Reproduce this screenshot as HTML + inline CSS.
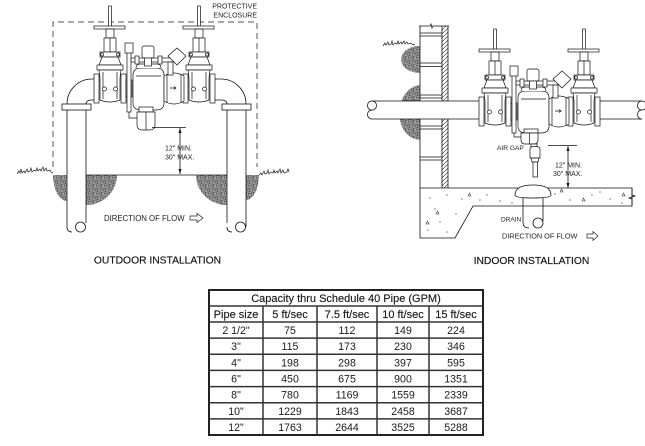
<!DOCTYPE html>
<html><head><meta charset="utf-8">
<style>
html,body{margin:0;padding:0;background:#fff;}
svg{display:block;font-family:"Liberation Sans",Arial,sans-serif;}
</style></head><body>
<svg width="645" height="446" viewBox="0 0 645 446" xmlns="http://www.w3.org/2000/svg">
<defs>
<pattern id="gr" width="8" height="8" patternUnits="userSpaceOnUse">
<rect width="8" height="8" fill="#4c4c4c"/>
<path d="M0.3,0.8h3.4M0.3,2.2h3.4M0.3,3.6h3.4M4.3,4.8h3.4M4.3,6.2h3.4M4.3,7.6h3.4M4.8,0.3v3.4M6.2,0.3v3.4M7.6,0.3v3.4M0.8,4.3v3.4M2.2,4.3v3.4M3.6,4.3v3.4" stroke="#e4e4e4" stroke-width="0.55" fill="none"/>
</pattern>
<pattern id="hs" width="4" height="4" patternUnits="userSpaceOnUse">
<path d="M-1,5 L5,-1" stroke="#222" stroke-width="0.6"/>
</pattern>
</defs>

<!-- ================= OUTDOOR ================= -->
<path d="M53,167 V22 H257 V167" fill="none" stroke="#555" stroke-width="1" stroke-dasharray="6,4"/>
<text x="257" y="8.5" font-size="7" text-anchor="end" fill="#222">PROTECTIVE</text>
<text x="257" y="17.5" font-size="7" text-anchor="end" fill="#222">ENCLOSURE</text>

<path d="M53,175 H67 V201 A14,26 0 0 1 53,175 Z" fill="url(#gr)"/>
<path d="M86,175 H117 A31,30 0 0 1 86,205 Z" fill="url(#gr)"/>
<path d="M227,175 H196 A31,30 0 0 0 227,205 Z" fill="url(#gr)"/>
<path d="M246,175 H259 A13,25 0 0 1 246,200 Z" fill="url(#gr)"/>
<path d="M17,174 l2,-3 l1,2 l1,-4 l1,4 l2,-2 l1,2 l2,-4 l1,3 l2,-1 l1,-3 l1,4 l2,-2 l2,1 l1,-3 l1,3 l2,-2 l1,2 l2,-4 l1,4 l2,-3 l1,3 l3,-1 l1,2 l2,1" fill="none" stroke="#222" stroke-width="0.7"/>
<path d="M259,175 l2,-2 l1,2 l2,-4 l1,3 l2,-1 l1,-3 l1,4 l2,-2 l2,1 l1,-3 l1,3 l2,-2 l1,2 l2,-4 l1,4 l2,-3 l1,3 l3,-1 l1,-3 l1,3" fill="none" stroke="#222" stroke-width="0.7"/>

<g fill="none" stroke="#111" stroke-width="0.8">
<path d="M67,227 V104 A25,25 0 0 1 92,79 H94 M94,100 H92 Q86,100 86,104 V223"/>
<path d="M67,227 Q67,232 72,232"/>
<circle cx="80.5" cy="227" r="5"/>
<path d="M246,227 V104 A25,25 0 0 0 221,79 H215 M215,100 H221 Q227,100 227,104 V223"/>
<path d="M227,227 Q227,232 232,232"/>
<circle cx="240.5" cy="227" r="5"/>
<line x1="86" y1="175" x2="227" y2="175"/>
</g>
<rect x="62" y="104" width="29" height="6" fill="#fff" stroke="#111" stroke-width="0.8"/>
<rect x="222" y="104" width="29" height="6" fill="#fff" stroke="#111" stroke-width="0.8"/>

<g fill="#fff" stroke="#111" stroke-width="0.7">
 <g>
  <rect x="108.6" y="6" width="2.8" height="33"/>
  <rect x="94" y="26" width="31" height="3"/>
  <rect x="106" y="29" width="8" height="9" rx="1"/>
  <rect x="104" y="38" width="12" height="14"/>
  <line x1="110" y1="38" x2="110" y2="52"/>
  <rect x="100" y="52" width="20" height="5"/>
  <circle cx="102" cy="54.5" r="1.5"/><circle cx="118" cy="54.5" r="1.5"/>
  <path d="M102,57 H118 L121,65 H99 Z"/>
  <rect x="97" y="65" width="26" height="5"/>
  <path d="M99,70 H121 L120,78 V100 Q110,104 100,100 V78 Z"/>
  <line x1="103" y1="72" x2="103" y2="99"/><line x1="117" y1="72" x2="117" y2="99"/>
  <circle cx="104.5" cy="89" r="2"/><circle cx="115.5" cy="89" r="2"/>
  <rect x="94" y="74" width="5" height="29"/>
  <rect x="121" y="74" width="5" height="29"/>
 </g>
 <g transform="translate(89,0)">
  <rect x="108.6" y="6" width="2.8" height="33"/>
  <rect x="94" y="26" width="31" height="3"/>
  <rect x="106" y="29" width="8" height="9" rx="1"/>
  <rect x="104" y="38" width="12" height="14"/>
  <line x1="110" y1="38" x2="110" y2="52"/>
  <rect x="100" y="52" width="20" height="5"/>
  <circle cx="102" cy="54.5" r="1.5"/><circle cx="118" cy="54.5" r="1.5"/>
  <path d="M102,57 H118 L121,65 H99 Z"/>
  <rect x="97" y="65" width="26" height="5"/>
  <path d="M99,70 H121 L120,78 V100 Q110,104 100,100 V78 Z"/>
  <line x1="103" y1="72" x2="103" y2="99"/><line x1="117" y1="72" x2="117" y2="99"/>
  <circle cx="104.5" cy="89" r="2"/><circle cx="115.5" cy="89" r="2"/>
  <rect x="94" y="74" width="5" height="29"/>
  <rect x="121" y="74" width="5" height="29"/>
 </g>
 <rect x="126" y="80" width="6" height="17"/>
 <rect x="127" y="46" width="4" height="66"/>
 <rect x="125" y="43" width="8" height="10"/>
 <path d="M133,75 Q133,68 141,68 H156 Q164,68 164,75 V103 Q164,110 156,110 H141 Q133,110 133,103 Z"/>
 <path d="M136,68 Q136,64 140,64 H157 Q161,64 161,68"/>
 <line x1="136" y1="76" x2="161" y2="76"/>
 <path d="M164,76 Q174,70 184,76 V101 Q174,107 164,101 Z"/>
 <line x1="167" y1="74" x2="167" y2="103"/><line x1="181" y1="74" x2="181" y2="103"/>
 <path d="M170,88 h6 M174,86.5 l2,1.5 l-2,1.5" fill="none"/>
 <rect x="131" y="58" width="42" height="4"/>
 <rect x="135" y="56" width="4" height="8"/>
 <rect x="158" y="56" width="4" height="8"/>
 <rect x="142" y="46" width="12" height="12" rx="2"/>
 <rect x="144.5" y="58" width="7" height="8"/>
 <path d="M168,56 L177,48 L186,56 L177,65 Z"/>
 <rect x="168" y="62" width="5" height="13"/>
 <path d="M129,112 V118 H137" fill="none"/>
 <rect x="139" y="107" width="14" height="5"/>
 <path d="M137,112 H155 V125 Q155,130 149,130 H143 Q137,130 137,125 Z"/>
 <line x1="146" y1="112" x2="146" y2="130"/>
</g>

<g stroke="#111" stroke-width="0.8" fill="#111">
<line x1="152" y1="127.5" x2="186" y2="127.5"/>
<line x1="180" y1="128" x2="180" y2="174"/>
<path d="M180,128 L178.5,133 L181.5,133 Z" stroke="none"/>
<path d="M180,174 L178.5,169 L181.5,169 Z" stroke="none"/>
</g>
<text x="165" y="150.5" font-size="7" fill="#222">12" MIN.</text>
<text x="165" y="159.5" font-size="7" fill="#222">30" MAX.</text>
<text x="104" y="221" font-size="7.8" fill="#222">DIRECTION OF FLOW</text>
<polygon points="190,216 197,216 197,213.5 203,218 197,222.5 197,220 190,220" fill="#fff" stroke="#222" stroke-width="0.7"/>
<text x="157.5" y="263.5" font-size="10.3" text-anchor="middle" fill="#111" stroke="#111" stroke-width="0.15">OUTDOOR INSTALLATION</text>

<!-- ================= INDOOR ================= -->
<path d="M420,46 C396,46 394,72 420,73 Z" fill="url(#gr)"/>
<path d="M420,85 C393,88 392,138 420,140 Z" fill="url(#gr)"/>
<path d="M383,46 l2,-3 l1,2 l2,-3 l1,3 l2,-1 l1,-3 l1,4 l2,-2 l2,1 l1,-3 l1,3 l2,-2 l1,2 l2,-3 l1,3 l2,-2 l1,2 l3,-1 l2,2 l2,-1" fill="none" stroke="#222" stroke-width="0.7"/>

<rect x="442" y="26" width="6" height="162" fill="url(#hs)"/>
<g fill="none" stroke="#111" stroke-width="0.8">
<path d="M420,26 V188 M442,26 V188 M448,26 V188"/>
<path d="M419,26 H430 l1,-2 l1,4 l1,-2 H449"/>
<path d="M420,33 H442 M420,36 H442 M420,63 H442 M420,66.5 H442 M420,95 H442 M420,98 H442 M420,126 H442 M420,129 H442 M420,157 H442 M420,160 H442"/>
</g>

<path d="M420,188 H632 V206 H473 L455,238 H420 Z" fill="#fff" stroke="#111" stroke-width="0.8"/>
<path d="M632,188 V195 l3,1 l-6,2 l3,1 V206" fill="none" stroke="#111" stroke-width="0.8"/>
<g fill="#333">
<circle cx="430" cy="198" r="0.6"/><circle cx="447" cy="195" r="0.6"/><circle cx="462" cy="199" r="0.6"/>
<circle cx="487" cy="195" r="0.6"/><circle cx="500" cy="201" r="0.6"/><circle cx="456" cy="214" r="0.6"/>
<circle cx="440" cy="222" r="0.6"/><circle cx="428" cy="230" r="0.6"/><circle cx="447" cy="232" r="0.6"/>
<circle cx="570" cy="200" r="0.6"/><circle cx="592" cy="195" r="0.6"/><circle cx="610" cy="199" r="0.6"/>
<circle cx="622" cy="203" r="0.6"/><circle cx="480" cy="200" r="0.6"/><circle cx="600" cy="192" r="0.6"/>
<circle cx="555" cy="194" r="0.6"/><circle cx="512" cy="203" r="0.6"/><circle cx="435" cy="209" r="0.6"/>
</g>
<g fill="none" stroke="#333" stroke-width="0.6">
<path d="M436,214 l1.5,-3 l1.5,3 z"/><path d="M468,196 l1.5,-3 l1.5,3 z"/><path d="M582,201 l1.5,-3 l1.5,3 z"/>
<path d="M622,196 l1.5,-3 l1.5,3 z"/><path d="M426,224 l1.5,-3 l1.5,3 z"/><path d="M560,192 l1.5,-3 l1.5,3 z"/>
</g>

<g fill="#fff" stroke="#111" stroke-width="0.8">
<path d="M523,198 V222 Q523,228 529,228 M543,198 V221" fill="none"/>
<circle cx="538" cy="223" r="5"/>
<path d="M515,195 Q515,185 533,185 Q551,185 551,195 Q551,198 533,198 Q515,198 515,195 Z"/>
</g>

<rect x="372" y="101" width="108" height="18" fill="#fff"/>
<rect x="599" y="101" width="43" height="18" fill="#fff"/>
<g fill="none" stroke="#111" stroke-width="0.8">
<path d="M372,101 H480 M372,119 H480 M599,101 H642 M599,119 H642"/>
<path d="M372,101 C366,101 366,110 372,110 C378,110 378,101 372,101 M372,110 C366,110 366,119 372,119"/>
<path d="M642,101 C636,101 636,110 642,110 C648,110 648,101 642,101 M642,110 C636,110 636,119 642,119"/>
</g>

<g fill="#fff" stroke="#111" stroke-width="0.7" transform="translate(385,23)">
 <g>
  <rect x="108.6" y="6" width="2.8" height="33"/>
  <rect x="94" y="26" width="31" height="3"/>
  <rect x="106" y="29" width="8" height="9" rx="1"/>
  <rect x="104" y="38" width="12" height="14"/>
  <line x1="110" y1="38" x2="110" y2="52"/>
  <rect x="100" y="52" width="20" height="5"/>
  <circle cx="102" cy="54.5" r="1.5"/><circle cx="118" cy="54.5" r="1.5"/>
  <path d="M102,57 H118 L121,65 H99 Z"/>
  <rect x="97" y="65" width="26" height="5"/>
  <path d="M99,70 H121 L120,78 V100 Q110,104 100,100 V78 Z"/>
  <line x1="103" y1="72" x2="103" y2="99"/><line x1="117" y1="72" x2="117" y2="99"/>
  <circle cx="104.5" cy="89" r="2"/><circle cx="115.5" cy="89" r="2"/>
  <rect x="94" y="74" width="5" height="29"/>
  <rect x="121" y="74" width="5" height="29"/>
 </g>
 <g transform="translate(89,0)">
  <rect x="108.6" y="6" width="2.8" height="33"/>
  <rect x="94" y="26" width="31" height="3"/>
  <rect x="106" y="29" width="8" height="9" rx="1"/>
  <rect x="104" y="38" width="12" height="14"/>
  <line x1="110" y1="38" x2="110" y2="52"/>
  <rect x="100" y="52" width="20" height="5"/>
  <circle cx="102" cy="54.5" r="1.5"/><circle cx="118" cy="54.5" r="1.5"/>
  <path d="M102,57 H118 L121,65 H99 Z"/>
  <rect x="97" y="65" width="26" height="5"/>
  <path d="M99,70 H121 L120,78 V100 Q110,104 100,100 V78 Z"/>
  <line x1="103" y1="72" x2="103" y2="99"/><line x1="117" y1="72" x2="117" y2="99"/>
  <circle cx="104.5" cy="89" r="2"/><circle cx="115.5" cy="89" r="2"/>
  <rect x="94" y="74" width="5" height="29"/>
  <rect x="121" y="74" width="5" height="29"/>
 </g>
 <rect x="126" y="80" width="6" height="17"/>
 <rect x="127" y="46" width="4" height="64"/>
 <rect x="125" y="43" width="8" height="10"/>
 <path d="M133,75 Q133,68 141,68 H156 Q164,68 164,75 V103 Q164,110 156,110 H141 Q133,110 133,103 Z"/>
 <path d="M136,68 Q136,64 140,64 H157 Q161,64 161,68"/>
 <line x1="136" y1="76" x2="161" y2="76"/>
 <path d="M164,76 Q174,70 184,76 V101 Q174,107 164,101 Z"/>
 <line x1="167" y1="74" x2="167" y2="103"/><line x1="181" y1="74" x2="181" y2="103"/>
 <path d="M170,88 h6 M174,86.5 l2,1.5 l-2,1.5" fill="none"/>
 <rect x="131" y="58" width="42" height="4"/>
 <rect x="135" y="56" width="4" height="8"/>
 <rect x="158" y="56" width="4" height="8"/>
 <rect x="142" y="46" width="12" height="12" rx="2"/>
 <rect x="144.5" y="58" width="7" height="8"/>
 <path d="M168,56 L177,48 L186,56 L177,65 Z"/>
 <rect x="168" y="62" width="5" height="13"/>
 <path d="M129,110 V114 H136" fill="none"/>
 <rect x="139" y="106" width="14" height="4"/>
 <path d="M136,110 H153 V117 Q153,121 149,121 H140 Q136,121 136,117 Z"/>
 <line x1="144.5" y1="110" x2="144.5" y2="121"/>
 <rect x="146" y="121" width="6" height="3"/>
</g>
<g fill="#fff" stroke="#111" stroke-width="0.7">
<path d="M530,149 Q530,146.5 535,146.5 Q540,146.5 540,149 V158 H530 Z"/>
<path d="M531,158 L539,158 L538,162 L532,162 Z"/>
<rect x="533" y="162" width="4.5" height="15"/>
</g>

<g stroke="#111" stroke-width="0.8" fill="#111">
<line x1="548" y1="145.5" x2="577" y2="145.5"/>
<line x1="568" y1="146" x2="568" y2="188"/>
<path d="M568,146 L566.5,151 L569.5,151 Z" stroke="none"/>
<path d="M568,188 L566.5,183 L569.5,183 Z" stroke="none"/>
</g>
<text x="555" y="167.5" font-size="7" fill="#222">12" MIN.</text>
<text x="553" y="176" font-size="7" fill="#222">30" MAX.</text>
<text x="497" y="150" font-size="6.6" fill="#222">AIR GAP</text>
<text x="501" y="221.5" font-size="6.5" fill="#222">DRAIN</text>
<text x="502" y="238.5" font-size="7.3" fill="#222">DIRECTION OF FLOW</text>
<polygon points="587,234 593,234 593,231.5 598,236 593,240.5 593,238 587,238" fill="#fff" stroke="#222" stroke-width="0.7"/>
<text x="531.5" y="264" font-size="10.3" text-anchor="middle" fill="#111" stroke="#111" stroke-width="0.15">INDOOR INSTALLATION</text>

<!-- ================= TABLE ================= -->
<rect x="209" y="290" width="274" height="145" fill="#fff" stroke="#222" stroke-width="2"/>
<g stroke="#333" stroke-width="1.5">
<line x1="209" y1="306" x2="483" y2="306"/>
<line x1="209" y1="322" x2="483" y2="322"/>
<line x1="209" y1="338.1" x2="483" y2="338.1"/>
<line x1="209" y1="354.3" x2="483" y2="354.3"/>
<line x1="209" y1="370.4" x2="483" y2="370.4"/>
<line x1="209" y1="386.6" x2="483" y2="386.6"/>
<line x1="209" y1="402.7" x2="483" y2="402.7"/>
<line x1="209" y1="418.9" x2="483" y2="418.9"/>
<line x1="263" y1="306" x2="263" y2="435"/>
<line x1="317" y1="306" x2="317" y2="435"/>
<line x1="377" y1="306" x2="377" y2="435"/>
<line x1="429" y1="306" x2="429" y2="435"/>
</g>
<g font-size="11" fill="#1a1a1a" stroke="#1a1a1a" stroke-width="0.15" text-anchor="middle">
<text x="346" y="302">Capacity thru Schedule 40 Pipe (GPM)</text>
<text x="236" y="318">Pipe size</text><text x="290" y="318">5 ft/sec</text><text x="347" y="318">7.5 ft/sec</text><text x="403" y="318">10 ft/sec</text><text x="456" y="318">15 ft/sec</text>
</g>
<g font-size="10.6" fill="#1a1a1a" text-anchor="middle">
<text x="236" y="334">2 1/2"</text><text x="290" y="334">75</text><text x="347" y="334">112</text><text x="403" y="334">149</text><text x="456" y="334">224</text>
<text x="236" y="350.2">3"</text><text x="290" y="350.2">115</text><text x="347" y="350.2">173</text><text x="403" y="350.2">230</text><text x="456" y="350.2">346</text>
<text x="236" y="366.3">4"</text><text x="290" y="366.3">198</text><text x="347" y="366.3">298</text><text x="403" y="366.3">397</text><text x="456" y="366.3">595</text>
<text x="236" y="382.5">6"</text><text x="290" y="382.5">450</text><text x="347" y="382.5">675</text><text x="403" y="382.5">900</text><text x="456" y="382.5">1351</text>
<text x="236" y="398.6">8"</text><text x="290" y="398.6">780</text><text x="347" y="398.6">1169</text><text x="403" y="398.6">1559</text><text x="456" y="398.6">2339</text>
<text x="236" y="414.8">10"</text><text x="290" y="414.8">1229</text><text x="347" y="414.8">1843</text><text x="403" y="414.8">2458</text><text x="456" y="414.8">3687</text>
<text x="236" y="430.9">12"</text><text x="290" y="430.9">1763</text><text x="347" y="430.9">2644</text><text x="403" y="430.9">3525</text><text x="456" y="430.9">5288</text>
</g>
</svg>
</body></html>
